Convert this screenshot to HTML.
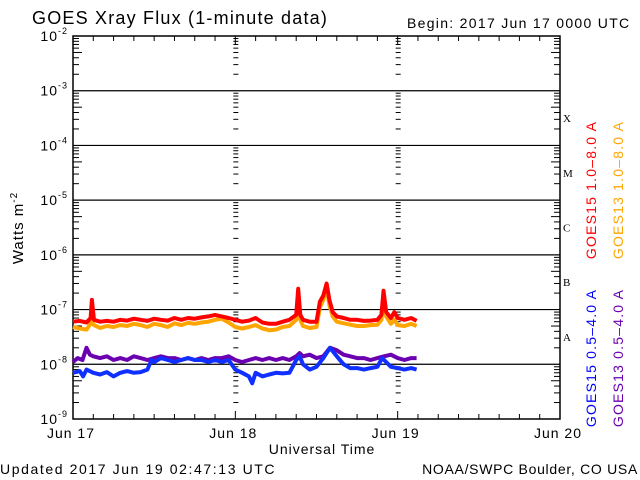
<!DOCTYPE html>
<html><head><meta charset="utf-8"><style>
html,body{margin:0;padding:0;background:#fff;}
svg{display:block;font-family:"Liberation Sans",sans-serif;}
</style></head><body>
<svg id="chart" width="640" height="480" viewBox="0 0 640 480">
<rect x="0" y="0" width="640" height="480" fill="#fff"/>
<text x="32" y="24" font-size="18" letter-spacing="1.2">GOES Xray Flux (1-minute data)</text>
<text x="407" y="28" font-size="14" letter-spacing="1.3">Begin:  2017 Jun 17 0000 UTC</text>
<text transform="translate(23,228) rotate(-90)" text-anchor="middle" font-size="15" letter-spacing="1">Watts m<tspan dy="-6" font-size="10">-2</tspan></text>
<text x="322" y="454" text-anchor="middle" font-size="14" letter-spacing="1">Universal Time</text>
<text x="0" y="474" font-size="14" letter-spacing="1.6">Updated 2017 Jun 19 02:47:13 UTC</text>
<text x="638" y="474" text-anchor="end" font-size="14" letter-spacing="0.7">NOAA/SWPC Boulder, CO USA</text>
<text transform="translate(596,190) rotate(-90)" text-anchor="middle" font-size="14" letter-spacing="1.2" fill="#ff0000">GOES15 1.0–8.0 A</text>
<text transform="translate(623,190) rotate(-90)" text-anchor="middle" font-size="14" letter-spacing="1.2" fill="#ffa500">GOES13 1.0–8.0 A</text>
<text transform="translate(596,358) rotate(-90)" text-anchor="middle" font-size="14" letter-spacing="1.2" fill="#0000ff">GOES15 0.5–4.0 A</text>
<text transform="translate(623,358) rotate(-90)" text-anchor="middle" font-size="14" letter-spacing="1.2" fill="#6a00b0">GOES13 0.5–4.0 A</text>
<g id="axes"></g>
<g id="series"></g>
</svg>
<script>
const xTickDays = ["Jun 17","Jun 18","Jun 19","Jun 20"];
const yExponents = [-9,-8,-7,-6,-5,-4,-3,-2];
const flareClasses = ["A","B","C","M","X"];

const g15LongT = [0,1,2,2.6,2.8,3.1,4,5,6,7,8,9,10,11,12,13,14,15,16,17,18,19,20,21,22,23,24,25,26,27,28,29,30,31,32,33,33.3,33.6,34,35,36,36.5,37,37.5,37.9,38.4,39,40,41,42,43,44,45,45.6,45.9,46.3,47,47.5,48,49,50,50.8];
const g15LongV = [6,6.2,5.8,7,15,6.5,6,6.2,6,6.5,6.3,6.8,6.5,6.2,6.8,6.5,6.3,7,6.5,7,6.8,7.2,7.5,8,7.5,7,6.5,6,6.3,7,5.8,5.5,5.5,6,6.5,8,24,8,6.5,6,6,14,18,30,15,9,7.5,7,6.5,6.5,6.2,6.3,6.5,8,22,9,7,9,7,6.5,7,6.2];
const g13LongT = [0,1,2,2.8,3.1,4,5,6,7,8,9,10,11,12,13,14,15,16,17,18,19,20,21,22,23,24,25,26,27,28,29,30,31,32,33,33.3,33.6,34,35,36,36.5,37,37.5,37.9,38.4,39,40,41,42,43,44,45,45.6,45.9,46.3,47,47.5,48,49,50,50.8];
const g13LongV = [4.8,4.5,4.3,6,5.2,4.6,5,4.8,5.2,5,5.5,5.2,4.8,5.5,5.2,4.8,5.6,5.2,5.7,5.5,5.8,6,6.5,6.8,5.8,4.8,4.5,4.8,5.2,4.5,4.2,4.3,4.8,5,6.5,20,6.5,5,4.6,4.8,11,15,25,12,7.5,6,5.6,5.3,5,5,5.2,5.3,6.5,18,7.5,5.5,6.5,5.2,5,5.5,5];
const g13ShortT = [0,0.7,1.4,2,2.5,3,4,5,6,7,8,9,10,11,12,13,14,15,16,17,18,19,20,21,22,23,24,25,26,27,28,29,30,31,32,33,33.5,34,35,36,37,38,39,40,41,42,43,44,45,46,47,48,49,50,50.8];
const g13ShortV = [1.1,1.3,1.2,2,1.5,1.4,1.3,1.4,1.2,1.3,1.2,1.4,1.3,1.2,1.3,1.4,1.3,1.3,1.2,1.3,1.2,1.3,1.2,1.3,1.3,1.4,1.2,1.1,1.2,1.3,1.2,1.3,1.2,1.3,1.2,1.4,1.6,1.4,1.5,1.3,1.4,2,1.8,1.5,1.4,1.3,1.3,1.2,1.3,1.4,1.5,1.3,1.2,1.3,1.3];
const g15ShortT = [0,1,1.5,2,3,4,5,6,7,8,9,10,11,11.6,12,13,14,15,16,17,18,19,20,21,22,23,24,25,26,26.5,27,28,29,30,31,32,33,33.5,34,35,36,37,38,39,40,41,42,43,44,45,45.7,46,47,48,49,50,50.8];
const g15ShortV = [0.7,0.75,0.6,0.8,0.7,0.65,0.72,0.6,0.7,0.75,0.7,0.72,0.8,1.2,1.1,1.3,1.2,1.1,1.2,1.3,1.2,1.2,1.1,1.2,1.1,1.2,0.8,0.7,0.6,0.45,0.7,0.6,0.65,0.7,0.68,0.7,1.2,1.4,1,0.8,0.9,1.3,2,1.4,1,0.85,0.85,0.8,0.85,0.9,1.3,1.2,0.9,0.85,0.8,0.85,0.8];

const L=73,R=560,T=36,B=419;
const hx = h => L + h*(R-L)/72;
const vy = v => B - (Math.log10(v*1e-8)+9)*(B-T)/7;
const ey = e => B - (e+9)*(B-T)/7;
const NS="http://www.w3.org/2000/svg";
const axes=document.getElementById('axes'), ser=document.getElementById('series');
function mk(tag,attrs,parent){const e=document.createElementNS(NS,tag);for(const k in attrs)e.setAttribute(k,attrs[k]);parent.appendChild(e);return e;}

const fr=mk('rect',{x:L,y:T,width:R-L,height:B-T,fill:'none',stroke:'#000','stroke-width':1.5},axes);



yExponents.forEach(e=>{
  const y=ey(e);
  if(e>-9&&e<-2){
    const gl=mk('line',{x1:L,x2:R,y1:y,y2:y,stroke:'#000','stroke-width':1.2},axes);
    
    
  }
  const lb=mk('text',{x:L-5,y:y+5,'text-anchor':'end','font-size':14,'letter-spacing':1},axes);
  
  
  lb.textContent='10';
  const sp=mk('tspan',{dy:-7,'font-size':9},lb); sp.textContent=String(e);
  if(e<-2){
    for(let m=2;m<=9;m++){
      const yy=B-((e+9)+Math.log10(m))*(B-T)/7;
      mk('line',{x1:L,x2:L+(m==5?9:6),y1:yy,y2:yy,stroke:'#000'},axes);
      mk('line',{x1:R,x2:R-(m==5?9:6),y1:yy,y2:yy,stroke:'#000'},axes);
      [1,2].forEach(d=>{const x=hx(d*24);mk('line',{x1:x-2,x2:x+3,y1:yy,y2:yy,stroke:'#000'},axes);});
    }
  }
});
flareClasses.forEach((c,i)=>{
  const t=mk('text',{x:R+3,y:ey(-8+i)-(B-T)/14+4,'font-size':11,'font-family':'Liberation Serif, serif'},axes);
  
  
  t.textContent=c;
});
for(let h=3;h<72;h+=3){
  const x=hx(h);
  mk('line',{x1:x,x2:x,y1:B,y2:B-(h%24==0?8:5),stroke:'#000'},axes);
  mk('line',{x1:x,x2:x,y1:T,y2:T+(h%24==0?8:5),stroke:'#000'},axes);
}
xTickDays.forEach((d,i)=>{
  const t=mk('text',{x:hx(i*24)-2,y:438,'text-anchor':'middle','font-size':14,'letter-spacing':1},axes);
  
  
  t.textContent=d;
});

function series(ts,vs,color,name){
  let d='';
  ts.forEach((t,i)=>{d+=(i?'L':'M')+hx(t).toFixed(1)+','+vy(vs[i]).toFixed(1);});
  const p=mk('path',{d:d,fill:'none',stroke:color,'stroke-width':4,'stroke-linejoin':'round'},ser);
  
  
}
series(g13ShortT,g13ShortV,'#6a00b0','series-goes13-short');
series(g15ShortT,g15ShortV,'#1030ff','series-goes15-short');
series(g13LongT,g13LongV,'#ffa500','series-goes13-long');
series(g15LongT,g15LongV,'#ff0000','series-goes15-long');
</script>
</body></html>
